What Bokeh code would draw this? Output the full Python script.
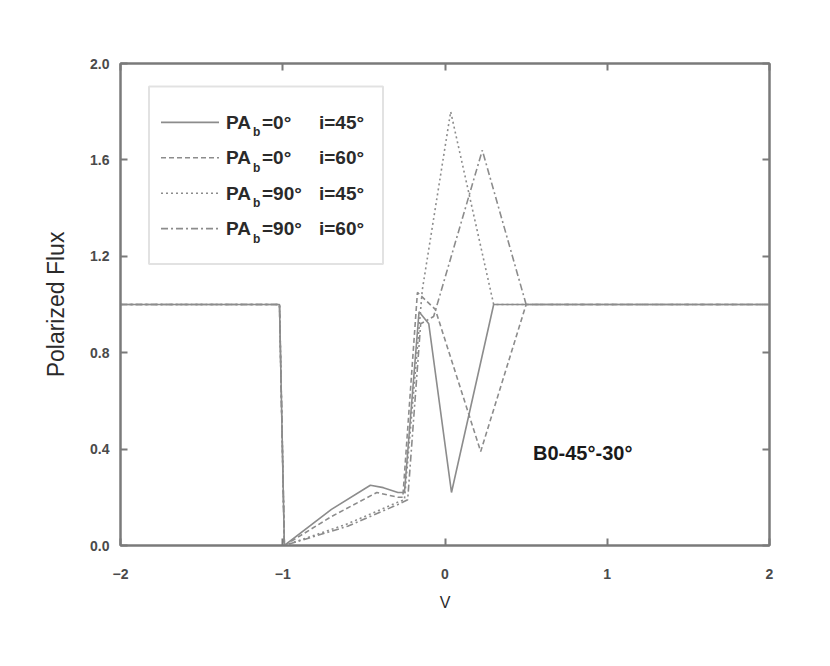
from bokeh.plotting import figure
from bokeh.models import Range1d, LinearAxis, Label, BoxAnnotation, NumeralTickFormatter, FixedTicker
from bokeh.embed import file_html
from bokeh.resources import INLINE

# ---- data ----
x_pa0_i45 = [-2.0, -1.02, -0.99, -0.70, -0.46, -0.38, -0.29, -0.25, -0.16, -0.10, 0.04, 0.30, 2.0]
y_pa0_i45 = [1.0, 1.0, 0.0, 0.15, 0.25, 0.24, 0.22, 0.22, 0.97, 0.92, 0.22, 1.0, 1.0]

x_pa0_i60 = [-2.0, -1.02, -0.99, -0.70, -0.42, -0.29, -0.26, -0.17, -0.06, 0.22, 0.50, 2.0]
y_pa0_i60 = [1.0, 1.0, 0.0, 0.12, 0.22, 0.20, 0.20, 1.05, 0.98, 0.39, 1.0, 1.0]

x_pa90_i45 = [-2.0, -1.02, -0.99, -0.60, -0.29, -0.25, -0.14, 0.035, 0.30, 2.0]
y_pa90_i45 = [1.0, 1.0, 0.0, 0.09, 0.18, 0.19, 1.06, 1.80, 1.0, 1.0]

x_pa90_i60 = [-2.0, -1.02, -0.99, -0.60, -0.29, -0.23, -0.15, -0.07, 0.23, 0.50, 2.0]
y_pa90_i60 = [1.0, 1.0, 0.0, 0.08, 0.17, 0.19, 0.92, 0.95, 1.64, 1.0, 1.0]

legend_pa = ["=0°", "=0°", "=90°", "=90°"]
legend_i = ["i=45°", "i=60°", "i=45°", "i=60°"]
x_ticks = [-2, -1, 0, 1, 2]
y_ticks = [0.0, 0.4, 0.8, 1.2, 1.6, 2.0]
annotation_text = "B0-45°-30°"

# ---- styling ----
FONT = "Liberation Sans"
LINE_COLOR = "#8c8c8c"
AXIS_COLOR = "#7a7a7a"
TEXT_COLOR = "#2a2a2a"
dashes = ["solid", "5 3", "2 3", "7 3 2 3"]

p = figure(width=814, height=650, output_backend="svg", toolbar_location=None,
           x_range=Range1d(-2, 2), y_range=Range1d(0, 2),
           min_border_left=120, min_border_right=45, min_border_top=63, min_border_bottom=105)
p.background_fill_color = "white"
p.border_fill_color = "white"
p.grid.visible = False
p.outline_line_color = AXIS_COLOR
p.outline_line_width = 2

series = [(x_pa0_i45, y_pa0_i45), (x_pa0_i60, y_pa0_i60), (x_pa90_i45, y_pa90_i45), (x_pa90_i60, y_pa90_i60)]
for (xs, ys), d in zip(series, dashes):
    p.line(xs, ys, line_color=LINE_COLOR, line_width=1.6, line_dash=d)

def style_axis(ax, show_labels=True):
    ax.axis_line_color = AXIS_COLOR
    ax.axis_line_width = 2
    ax.major_tick_in = 7
    ax.major_tick_out = 0
    ax.minor_tick_in = 4
    ax.minor_tick_out = 0
    ax.major_tick_line_color = AXIS_COLOR
    ax.minor_tick_line_color = AXIS_COLOR
    ax.major_tick_line_width = 2
    ax.minor_tick_line_width = 2
    ax.major_label_text_font = FONT
    ax.major_label_text_font_size = "14px"
    ax.major_label_text_font_style = "bold"
    ax.major_label_text_color = "#4a4a4a"
    ax.axis_label_text_font = FONT
    ax.axis_label_text_font_style = "normal"
    ax.axis_label_text_color = TEXT_COLOR
    ax.axis_label_text_font_size = "16px"
    if not show_labels:
        ax.major_label_text_alpha = 0

p.xaxis.ticker = FixedTicker(ticks=x_ticks, num_minor_ticks=2)
p.yaxis.ticker = FixedTicker(ticks=y_ticks, num_minor_ticks=2)
p.yaxis.formatter = NumeralTickFormatter(format="0.0")
p.xaxis.axis_label = "V"
p.yaxis.axis_label = "Polarized Flux"
for ax in p.xaxis + p.yaxis:
    style_axis(ax)
p.yaxis.axis_label_text_font_size = "23px"
p.xaxis.major_label_standoff = 23
p.xaxis.axis_label_standoff = 12
p.yaxis.major_label_standoff = 11
p.yaxis.axis_label_standoff = 18

top = LinearAxis(ticker=FixedTicker(ticks=x_ticks, num_minor_ticks=2))
style_axis(top, False)
top.major_label_text_font_size = "0px"
p.add_layout(top, "above")
right = LinearAxis(ticker=FixedTicker(ticks=y_ticks, num_minor_ticks=2))
style_axis(right, False)
right.major_label_text_font_size = "0px"
p.add_layout(right, "right")

# ---- legend (manual, for subscripts) ----
def xd(px):
    return (px - 444.0) / 162.25

def yd(py):
    return (545.0 - py) / 241.5

p.add_layout(BoxAnnotation(left=xd(148), right=xd(382), top=yd(85), bottom=yd(263),
                           fill_color="white", fill_alpha=1.0, level="underlay",
                           line_color="#a0a0a0", line_width=2))
for k, d in enumerate(dashes):
    py = 121 + 35.5 * k
    p.line([xd(160), xd(218)], [yd(py), yd(py)], line_color=LINE_COLOR, line_width=1.6, line_dash=d)
    p.add_layout(Label(x=xd(225), y=yd(py), text="PA", text_font=FONT, text_font_size="19px",
                       text_color=TEXT_COLOR, text_baseline="middle", text_font_style="bold"))
    p.add_layout(Label(x=xd(252), y=yd(py + 10), text="b", text_font=FONT, text_font_size="12px",
                       text_color=TEXT_COLOR, text_baseline="middle", text_font_style="bold"))
    p.add_layout(Label(x=xd(261), y=yd(py), text=legend_pa[k], text_font=FONT, text_font_size="19px",
                       text_color=TEXT_COLOR, text_baseline="middle", text_font_style="bold"))
    p.add_layout(Label(x=xd(318), y=yd(py), text=legend_i[k], text_font=FONT, text_font_size="19px",
                       text_color=TEXT_COLOR, text_baseline="middle", text_font_style="bold"))

p.add_layout(Label(x=xd(532), y=yd(452), text=annotation_text, text_font=FONT, text_font_size="20px",
                   text_color="#1a1a1a", text_baseline="middle", text_font_style="bold"))

open("out.html", "w").write(file_html(p, INLINE))
